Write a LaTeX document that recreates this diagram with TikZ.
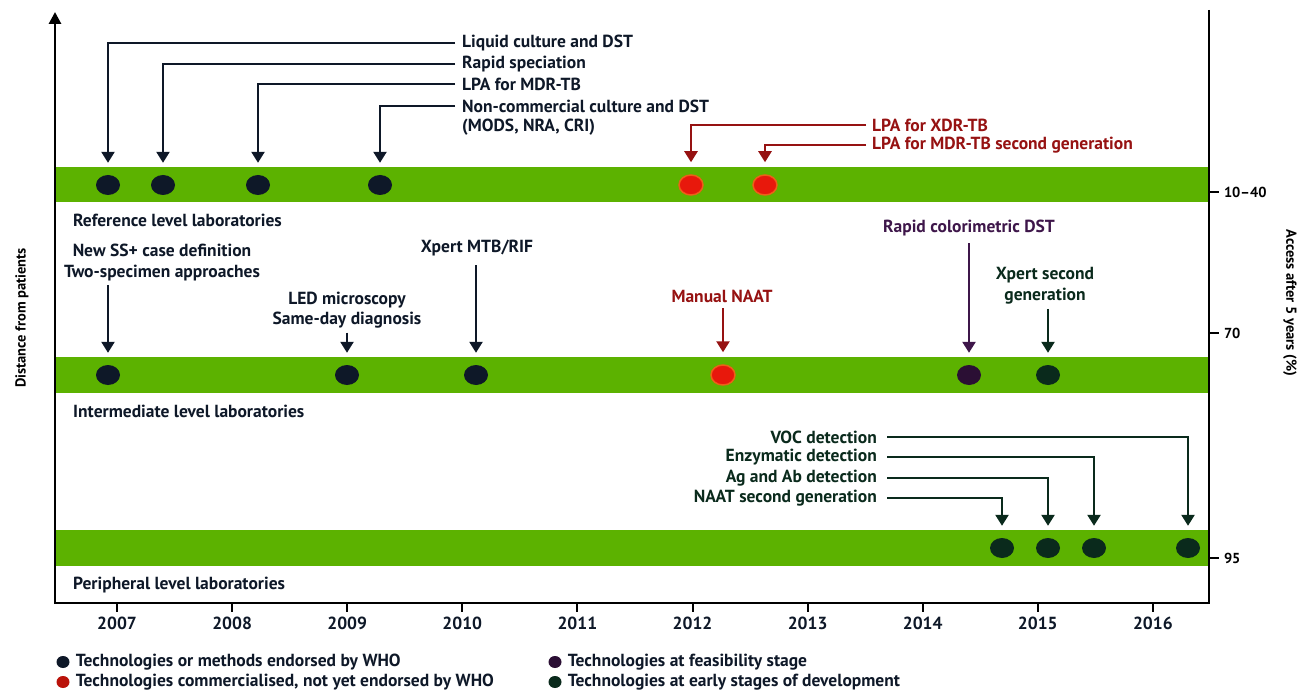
\documentclass[tikz,border=0pt]{standalone}
\usepackage{fontspec}
\setmainfont{PT Sans}
\usetikzlibrary{arrows.meta,positioning,shapes.geometric}

\definecolor{bandgreen}{RGB}{92,178,0}
\definecolor{whonavy}{RGB}{14,24,40}
\definecolor{comred}{RGB}{150,18,18}
\definecolor{dotred}{RGB}{232,24,12}
\definecolor{dotrim}{RGB}{236,96,24}
\definecolor{feaspurple}{RGB}{62,22,74}
\definecolor{earlygreen}{RGB}{10,42,28}

\begin{document}
\begin{tikzpicture}[x=1pt, y=-1pt,
    lbl/.style={font=\fontsize{17.5}{20.5}\selectfont\bfseries, inner sep=0pt, text=whonavy},
    axlbl/.style={font=\fontsize{14.5}{17}\selectfont\bfseries, inner sep=0pt, text=black},
    dot/.style={ellipse, minimum width=24pt, minimum height=20pt, inner sep=0pt, fill=whonavy},
    reddot/.style={dot, fill=dotred, draw=dotrim, line width=1.5pt},
    legdot/.style={dot, minimum width=13pt, minimum height=12pt},
    conn/.style={line width=2.4pt, draw=whonavy, -{Triangle[width=13pt,length=11pt]}, shorten >=12pt},
    band/.style={fill=bandgreen, draw=none},
    axis/.style={line width=2.8pt, draw=black},
    >=Stealth
]
    \useasboundingbox[fill=white] (0,0) rectangle (1313,692);

    % laboratory levels
    \fill[band] (55,167) rectangle (1209,202);
    \fill[band] (55,357) rectangle (1209,393);
    \fill[band] (55,530) rectangle (1209,566);
    \node[lbl, anchor=west] (reflab) at (73,220) {Reference level laboratories};
    \node[lbl, anchor=west] (intlab) at (73,411) {Intermediate level laboratories};
    \node[lbl, anchor=west] (perlab) at (73,585) {Peripheral level laboratories};

    % axes
    \draw[axis, -{Triangle[width=12pt,length=12pt]}] (1209,10) -- (1209,603) -- (55,603) -- (55,12);
    \foreach \yr [count=\i from 0] in {2007,...,2016}
        \draw[axis, line width=2pt] (117+115.1*\i,603) -- ++(0,9) node[lbl, below=4pt] {\yr};
    \draw[axis, line width=2pt] (1209,192) -- ++(10,0) node[axlbl, right=4pt] {10--40};
    \draw[axis, line width=2pt] (1209,333) -- ++(10,0) node[axlbl, right=4pt] {70};
    \draw[axis, line width=2pt] (1209,558) -- ++(10,0) node[axlbl, right=4pt] {95};
    \node[axlbl, rotate=90] (distlab) at (22,318) {Distance from patients};
    \node[axlbl, rotate=-90] (acclab) at (1290,303) {Access after 5 years (\%)};

    % reference level
    \node[dot] (liqdot) at (108,185) {};
    \node[dot] (spedot) at (163,185) {};
    \node[dot] (lpadot) at (258,185) {};
    \node[dot] (ncdot) at (380,185) {};
    \node[reddot] (xdrdot) at (691,185) {};
    \node[reddot] (mdrdot) at (765,185) {};
    \node[lbl, anchor=west, inner xsep=7pt] (liq) at (455,43) {Liquid culture and DST};
    \node[lbl, anchor=west, inner xsep=7pt] (spe) at (455,64) {Rapid speciation};
    \node[lbl, anchor=west, inner xsep=7pt] (lpa) at (455,84) {LPA for MDR-TB};
    \node[lbl, anchor=west, inner xsep=7pt] (nc) at (455,106) {Non-commercial culture and DST};
    \node[lbl, anchor=west, inner xsep=7pt] (ncx) at (455,127) {(MODS, NRA, CRI)};
    \node[lbl, anchor=west, inner xsep=6pt, text=comred] (xdr) at (866,125) {LPA for XDR-TB};
    \node[lbl, anchor=west, inner xsep=6pt, text=comred] (mdr) at (866,145) {LPA for MDR-TB second generation};
    \draw[conn] (liq.west) -| (liqdot.north);
    \draw[conn] (spe.west) -| (spedot.north);
    \draw[conn] (lpa.west) -| (lpadot.north);
    \draw[conn] (nc.west) -| (ncdot.north);
    \draw[conn, draw=comred] (xdr.west) -| (xdrdot.north);
    \draw[conn, draw=comred] (mdr.west) -| (mdrdot.north);

    % intermediate level
    \node[dot] (ssdot) at (108,375) {};
    \node[dot] (leddot) at (347,375) {};
    \node[dot] (xpdot) at (476,375) {};
    \node[reddot] (naatdot) at (723,375) {};
    \node[dot, fill=feaspurple!70!black] (coldot) at (969,375) {};
    \node[dot, fill=earlygreen] (xp2dot) at (1048,375) {};
    \node[lbl, align=center, inner ysep=4pt] (ss) at (162,262.5) {New SS+ case definition\\Two-specimen approaches};
    \node[lbl, align=center, inner ysep=4pt] (led) at (347,310) {LED microscopy\\Same-day diagnosis};
    \node[lbl, inner ysep=9pt] (xp) at (477,248) {Xpert MTB/RIF};
    \node[lbl, inner ysep=6pt, text=comred] (naat) at (722,296) {Manual NAAT};
    \node[lbl, inner ysep=7pt, text=feaspurple] (col) at (969,228) {Rapid colorimetric DST};
    \node[lbl, align=center, inner ysep=5pt, text=earlygreen] (xp2) at (1045,285.5) {Xpert second\\generation};
    \draw[conn] (ss.south -| ssdot) -- (ssdot.north);
    \draw[conn] (led.south -| leddot) -- (leddot.north);
    \draw[conn] (xp.south -| xpdot) -- (xpdot.north);
    \draw[conn, draw=comred] (naat.south -| naatdot) -- (naatdot.north);
    \draw[conn, draw=feaspurple] (col.south -| coldot) -- (coldot.north);
    \draw[conn, draw=earlygreen] (xp2.south -| xp2dot) -- (xp2dot.north);

    % peripheral level
    \node[dot, fill=earlygreen] (n2dot) at (1002,548) {};
    \node[dot, fill=earlygreen] (agdot) at (1048,548) {};
    \node[dot, fill=earlygreen] (enzdot) at (1094,548) {};
    \node[dot, fill=earlygreen] (vocdot) at (1188,548) {};
    \node[lbl, anchor=east, inner xsep=10pt, text=earlygreen] (voc) at (887,437) {VOC detection};
    \node[lbl, anchor=east, inner xsep=10pt, text=earlygreen] (enz) at (887,457) {Enzymatic detection};
    \node[lbl, anchor=east, inner xsep=10pt, text=earlygreen] (ag) at (887,478) {Ag and Ab detection};
    \node[lbl, anchor=east, inner xsep=10pt, text=earlygreen] (n2) at (887,498) {NAAT second generation};
    \draw[conn, draw=earlygreen] (voc.east) -| (vocdot.north);
    \draw[conn, draw=earlygreen] (enz.east) -| (enzdot.north);
    \draw[conn, draw=earlygreen] (ag.east) -| (agdot.north);
    \draw[conn, draw=earlygreen] (n2.east) -| (n2dot.north);

    % legend
    \node[legdot] (legwho) at (63,662) {};
    \node[legdot, fill=dotred!80!black] (legcom) at (63,682) {};
    \node[legdot, fill=feaspurple!70!black] (legfea) at (555,662) {};
    \node[legdot, fill=earlygreen] (legear) at (555,682) {};
    \node[lbl, right=6pt of legwho] {Technologies or methods endorsed by WHO};
    \node[lbl, right=6pt of legcom] {Technologies commercialised, not yet endorsed by WHO};
    \node[lbl, right=6pt of legfea] {Technologies at feasibility stage};
    \node[lbl, right=6pt of legear] {Technologies at early stages of development};
\end{tikzpicture}
\end{document}
